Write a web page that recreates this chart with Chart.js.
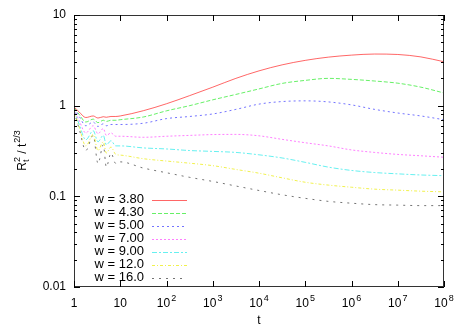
<!DOCTYPE html>
<html>
<head>
<meta charset="utf-8">
<script src="https://cdn.jsdelivr.net/npm/chart.js@4.4.1/dist/chart.umd.min.js"></script>
<style>
  html, body { margin: 0; padding: 0; background: #fff; }
  #wrap { width: 467px; height: 327px; }
</style>
</head>
<body>
<div id="wrap"><canvas id="chart" width="467" height="327"></canvas></div>
<script>
// time values (shared by all curves)
const tVals = [1, 1.3, 1.8, 2.6, 3.3, 4.3, 5, 6.3, 8, 10,
  31.6, 1e2, 316, 1e3, 3162, 1e4, 31623, 1e5, 316228, 1e6, 3162278, 1e7, 31622777, 1e8];

// one label and one series per w
const wLabels = ["w = 3.80", "w = 4.30", "w = 5.00", "w = 7.00", "w = 9.00", "w = 12.0", "w = 16.0"];

const w380 = [0.97, 0.85, 0.74, 0.77, 0.73, 0.755, 0.745, 0.76, 0.76, 0.77,
  0.88, 1.05, 1.29, 1.6, 2.0, 2.42, 2.82, 3.16, 3.43, 3.61, 3.71, 3.67, 3.45, 3.05];
const w430 = [0.95, 0.8, 0.66, 0.71, 0.65, 0.69, 0.67, 0.69, 0.69, 0.70,
  0.75, 0.877, 1.0, 1.16, 1.33, 1.53, 1.76, 1.9, 2.0, 1.95, 1.87, 1.77, 1.6, 1.38];
const w500 = [0.93, 0.76, 0.6, 0.66, 0.59, 0.63, 0.6, 0.62, 0.62, 0.62,
  0.64, 0.72, 0.76, 0.81, 0.91, 1.04, 1.11, 1.13, 1.1, 1.02, 0.91, 0.83, 0.77, 0.70];
const w700 = [0.92, 0.68, 0.5, 0.6, 0.49, 0.56, 0.47, 0.5, 0.46, 0.46,
  0.448, 0.46, 0.47, 0.48, 0.482, 0.465, 0.425, 0.39, 0.36, 0.325, 0.305, 0.29, 0.28, 0.27];
const w900 = [0.9, 0.62, 0.42, 0.53, 0.4, 0.47, 0.37, 0.41, 0.36, 0.36,
  0.342, 0.333, 0.32, 0.313, 0.305, 0.287, 0.265, 0.237, 0.21, 0.193, 0.183, 0.177, 0.172, 0.169];
const w120 = [0.88, 0.58, 0.36, 0.48, 0.32, 0.40, 0.30, 0.35, 0.29, 0.285,
  0.26, 0.245, 0.232, 0.218, 0.198, 0.18, 0.16, 0.143, 0.133, 0.126, 0.12, 0.117, 0.114, 0.112];
const w160 = [0.87, 0.55, 0.32, 0.47, 0.23, 0.37, 0.21, 0.30, 0.23, 0.24,
  0.205, 0.182, 0.162, 0.146, 0.13, 0.116, 0.104, 0.095, 0.088, 0.084, 0.081, 0.08, 0.079, 0.079];

const allSeries = [w380, w430, w500, w700, w900, w120, w160];

// tick values
const xTicks = [1, 10, 1e2, 1e3, 1e4, 1e5, 1e6, 1e7, 1e8];
const xTickLabels = ["1", "10", "10|2", "10|3", "10|4", "10|5", "10|6", "10|7", "10|8"];
const yTicks = [0.01, 0.1, 1, 10];
const yTickLabels = ["0.01", "0.1", "1", "10"];

// gnuplot-like line styles (thin lines look washed out in the original)
const colors = ["rgba(255,0,0,0.6)", "rgba(0,230,0,0.6)", "rgba(0,0,255,0.55)", "rgba(255,0,255,0.5)",
  "rgba(0,230,230,0.6)", "rgba(235,235,0,0.7)", "rgba(0,0,0,0.55)"];
const dashes = [[], [4, 2], [2, 3], [2, 2], [5, 2, 2, 2], [3, 2, 1, 2], [2, 5]];

const FONT = "Liberation Sans, Arial, sans-serif";

const datasets = allSeries.map((vals, i) => ({
  label: wLabels[i],
  data: tVals.map((t, j) => ({ x: t, y: vals[j] })),
  borderColor: colors[i],
  borderWidth: 1,
  borderDash: dashes[i],
  pointRadius: 0,
  fill: false,
  cubicInterpolationMode: "monotone",
}));

// draw ticks, labels, legend and titles the gnuplot way
const gnuplotDecor = {
  id: "gnuplotDecor",
  afterDatasetsDraw(chart) {
    const ctx = chart.ctx;
    const a = chart.chartArea;
    const xs = chart.scales.x;
    const ys = chart.scales.y;
    ctx.save();

    // border
    ctx.strokeStyle = "#333";
    ctx.lineWidth = 1;
    ctx.setLineDash([]);
    ctx.strokeRect(Math.round(a.left) + 0.5, Math.round(a.top) + 0.5,
      Math.round(a.right - a.left) - 1, Math.round(a.bottom - a.top) - 1);

    // y ticks (major + minor), mirrored on right
    ctx.strokeStyle = "#000";
    ctx.beginPath();
    for (let e = -2; e <= 1; e++) {
      for (let k = 1; k <= 9; k++) {
        const v = k * Math.pow(10, e);
        if (v > 10.0001) continue;
        const py = Math.round(ys.getPixelForValue(v)) + 0.5;
        const len = k === 1 ? 6 : 3;
        ctx.moveTo(a.left, py); ctx.lineTo(a.left + len, py);
        ctx.moveTo(a.right, py); ctx.lineTo(a.right - len, py);
      }
    }
    // x ticks, top and bottom
    xTicks.forEach(v => {
      const px = Math.round(xs.getPixelForValue(v)) + 0.5;
      ctx.moveTo(px, a.bottom); ctx.lineTo(px, a.bottom - 6);
      ctx.moveTo(px, a.top); ctx.lineTo(px, a.top + 6);
    });
    ctx.stroke();

    // y tick labels
    ctx.fillStyle = "#000";
    ctx.font = "12px " + FONT;
    ctx.textAlign = "right";
    ctx.textBaseline = "middle";
    yTicks.forEach((v, i) => {
      ctx.fillText(yTickLabels[i], a.left - 8, ys.getPixelForValue(v));
    });

    // x tick labels with superscripts
    ctx.textBaseline = "alphabetic";
    ctx.textAlign = "left";
    xTicks.forEach((v, i) => {
      const px = xs.getPixelForValue(v);
      const parts = xTickLabels[i].split("|");
      ctx.font = "12px " + FONT;
      const w0 = ctx.measureText(parts[0]).width;
      let w1 = 0;
      if (parts[1]) { ctx.font = "9px " + FONT; w1 = ctx.measureText(parts[1]).width + 1; }
      const x0 = px - (w0 + w1) / 2;
      ctx.font = "12px " + FONT;
      ctx.fillText(parts[0], x0, 307);
      if (parts[1]) { ctx.font = "9px " + FONT; ctx.fillText(parts[1], x0 + w0 + 1, 301); }
    });

    // x title
    ctx.font = "12px " + FONT;
    ctx.textAlign = "center";
    ctx.fillText("t", (a.left + a.right) / 2, 324);

    // y title: R_t^2 / t^{2/3}
    ctx.save();
    ctx.translate(26, 150);
    ctx.rotate(-Math.PI / 2);
    ctx.textAlign = "left";
    const big = "12px " + FONT, small = "9px " + FONT;
    ctx.font = big; const wR = ctx.measureText("R").width;
    ctx.font = small; const wt = ctx.measureText("t").width, w2 = ctx.measureText("2").width;
    ctx.font = big; const wMid = ctx.measureText(" / t").width;
    ctx.font = small; const w23 = ctx.measureText("2/3").width;
    const total = wR + Math.max(wt, w2) + wMid + w23 + 2;
    let cx = -total / 2;
    ctx.font = big; ctx.fillText("R", cx, 0); cx += wR;
    ctx.font = small; ctx.fillText("t", cx, 3); ctx.fillText("2", cx, -6); cx += Math.max(wt, w2);
    ctx.font = big; ctx.fillText(" / t", cx, 0); cx += wMid + 1;
    ctx.font = small; ctx.fillText("2/3", cx, -6);
    ctx.restore();

    // legend
    ctx.font = "13px " + FONT;
    ctx.textAlign = "right";
    ctx.textBaseline = "middle";
    chart.data.datasets.forEach((ds, i) => {
      const ly = 199.5 + i * 13.05;
      ctx.fillStyle = "#000";
      ctx.fillText(ds.label, 144, ly);
      ctx.strokeStyle = ds.borderColor;
      ctx.setLineDash(ds.borderDash);
      ctx.beginPath();
      ctx.moveTo(152, Math.round(ly) + 0.5);
      ctx.lineTo(187, Math.round(ly) + 0.5);
      ctx.stroke();
    });
    ctx.restore();
  }
};

new Chart(document.getElementById("chart"), {
  type: "line",
  data: { datasets },
  options: {
    responsive: false,
    animation: false,
    devicePixelRatio: 1,
    layout: { padding: { left: 0, top: 15, right: 23, bottom: 0 } },
    plugins: { legend: { display: false }, tooltip: { enabled: false } },
    scales: {
      x: {
        type: "logarithmic",
        min: 1,
        max: 1e8,
        grid: { display: false },
        border: { display: false },
        ticks: { display: false },
        afterBuildTicks: s => { s.ticks = xTicks.map(v => ({ value: v })); },
        afterFit: s => { s.height = 40; },
      },
      y: {
        type: "logarithmic",
        min: 0.01,
        max: 10,
        grid: { display: false },
        border: { display: false },
        ticks: { display: false },
        afterBuildTicks: s => { s.ticks = yTicks.map(v => ({ value: v })); },
        afterFit: s => { s.width = 74; },
      },
    },
  },
  plugins: [gnuplotDecor],
});
</script>
</body>
</html>
